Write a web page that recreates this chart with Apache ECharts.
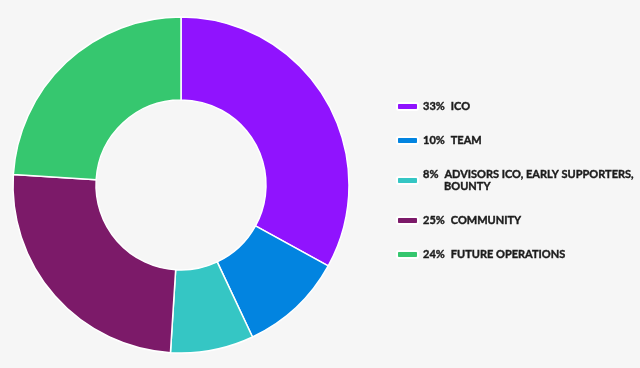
<!DOCTYPE html>
<html><head><meta charset="utf-8">
<script src="https://cdn.jsdelivr.net/npm/echarts@6/dist/echarts.min.js"></script>
<style>html,body{margin:0;padding:0;background:#f6f6f6;}#c{width:640px;height:368px;}</style>
</head><body><div id="c"></div>
<script>
const names = ['ICO', 'TEAM', 'ADVISORS ICO, EARLY SUPPORTERS,\nBOUNTY', 'COMMUNITY', 'FUTURE OPERATIONS'];
const values = [33, 10, 8, 25, 24];
const colors = ['#9013fe', '#0284e0', '#35c6c4', '#7c1a69', '#36c76f'];

const chart = echarts.init(document.getElementById('c'));
const data = names.map((n, i) => ({ name: n, value: values[i] }));
const txt = { fontFamily: 'Lato', fontWeight: 'bold', fontSize: 11, color: '#1c1c1c', lineHeight: 12, textBorderColor: '#1c1c1c', textBorderWidth: 0.4 };
chart.setOption({
  backgroundColor: '#f6f6f6',
  color: colors,
  legend: {
    orient: 'vertical',
    left: 391,
    top: 95.5,
    itemWidth: 21,
    itemHeight: 7,
    itemGap: 22,
    icon: 'roundRect',
    formatter: function (name) {
      const i = names.indexOf(name);
      const lines = name.split('\n');
      let s = '{p|' + values[i] + '%}{n|' + lines[0] + '}';
      for (let k = 1; k < lines.length; k++) s += '\n{s|}{n|' + lines[k] + '}';
      return s;
    },
    textStyle: Object.assign({}, txt, {
      rich: {
        p: Object.assign({}, txt, { padding: [0, 6, 0, 0] }),
        n: Object.assign({}, txt),
        s: { width: 21, lineHeight: 12 }
      }
    })
  },
  series: [{
    type: 'pie',
    center: [181, 185],
    radius: [85, 168],
    startAngle: 90,
    clockwise: true,
    label: { show: false },
    labelLine: { show: false },
    itemStyle: { borderColor: '#ffffff', borderWidth: 1.5 },
    emphasis: { disabled: true },
    data: data
  }]
});
</script></body></html>
